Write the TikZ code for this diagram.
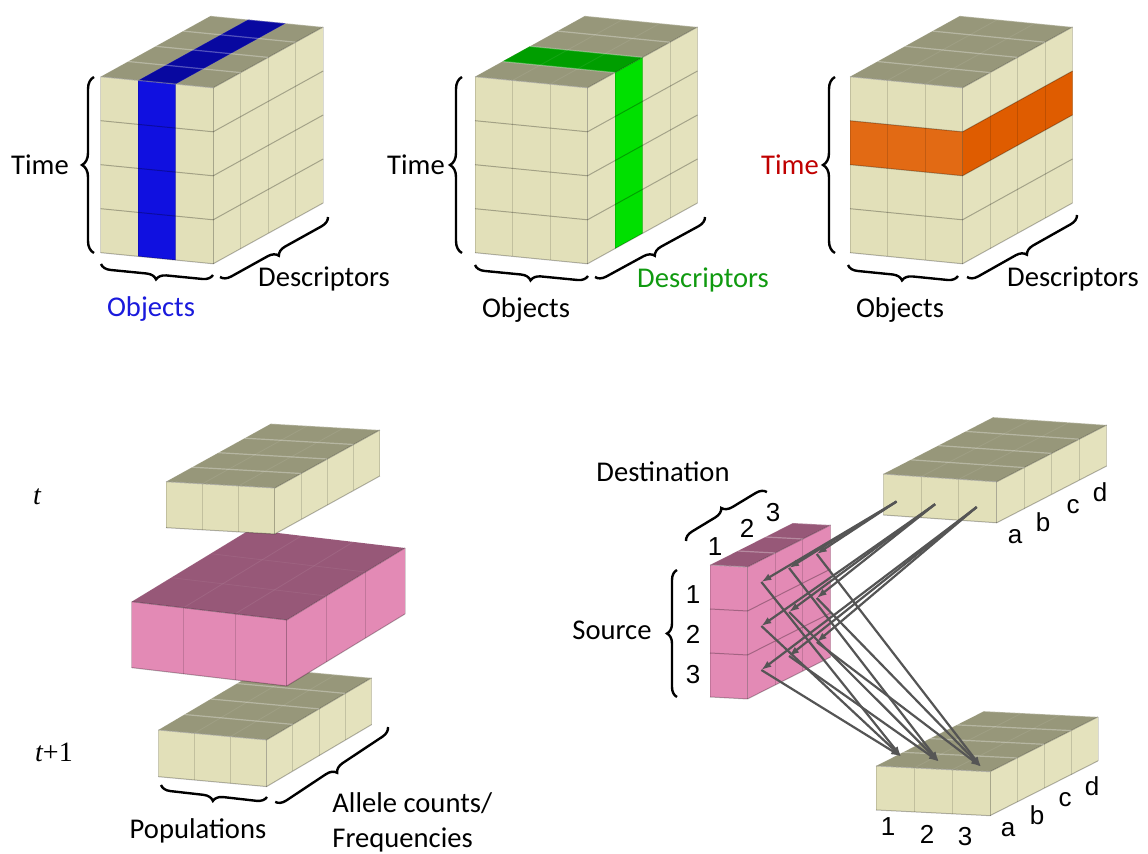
\documentclass[tikz,border=0pt]{standalone}
\usepackage{fontspec}
\setmainfont{Carlito}
\newfontfamily\idxfont{Liberation Sans}
\newfontfamily\varfont{Liberation Serif}
\usetikzlibrary{arrows.meta,decorations.pathreplacing}

\definecolor{cellfront}{HTML}{E2E0B9}
\definecolor{celltop}{HTML}{97977A}
\definecolor{cellside}{HTML}{E4E2BD}
\definecolor{pinkfront}{HTML}{E38AB5}
\definecolor{pinktop}{HTML}{975878}
\definecolor{objblue}{HTML}{1010E0}
\definecolor{objbluetop}{HTML}{0808A0}
\definecolor{descgreen}{HTML}{00E000}
\definecolor{descgreentop}{HTML}{009E00}
\definecolor{timeorange}{HTML}{E26A14}
\definecolor{timeorangeside}{HTML}{DF5C00}
\definecolor{bluetext}{HTML}{1A1ADC}
\definecolor{greentext}{HTML}{109A10}
\definecolor{redtext}{HTML}{C00000}
\definecolor{flowgrey}{HTML}{555555}

\tikzset{
    frontface/.style={fill=cellfront}, % faces of a block of cells
    topface/.style={fill=celltop},
    sideface/.style={fill=cellside},
    gridline/.style={draw=black, draw opacity=0.14, line width=0.5pt},
    rowline/.style={draw=black, draw opacity=0.28, line width=0.5pt},
    topline/.style={draw=white, draw opacity=0.3, line width=0.6pt},
    faintline/.style={draw=white, draw opacity=0.08, line width=0.4pt},
    bracket/.style={decorate, decoration={brace, amplitude=#1}, line width=1.2pt},
    bracket/.default=5pt,
    axislabel/.style={font=\fontsize{14.3}{17}\selectfont, inner sep=0pt, anchor=base},
    idxlabel/.style={font=\idxfont\fontsize{13}{15}\selectfont, inner sep=0pt},
    varlabel/.style={font=\varfont\fontsize{14}{16}\selectfont, inner sep=0pt},
    flow/.style={draw=flowgrey, line width=1.1pt, -{Latex[length=5pt,width=3.6pt]}},
}

% #1 objects, #2 rows, #3 depth, #4 coloured cells
\newcommand\cellblock[4]{%
  \fill[frontface] (0,0,0) -- (#1,0,0) -- (#1,#2,0) -- (0,#2,0) -- cycle;
  \fill[topface] (0,0,0) -- (#1,0,0) -- (#1,0,#3) -- (0,0,#3) -- cycle;
  \fill[sideface] (#1,0,0) -- (#1,0,#3) -- (#1,#2,#3) -- (#1,#2,0) -- cycle;
  #4
  \foreach \i in {0,...,#1} {
    \draw[gridline] (\i,0,0) -- (\i,#2,0);
    \draw[faintline] (\i,0,0) -- (\i,0,#3);
  }
  \foreach \j in {0,...,#2}
    \draw[rowline] (0,\j,0) -- (#1,\j,0) -- (#1,\j,#3);
  \foreach \k in {0,...,#3} {
    \draw[topline] (0,0,\k) -- (#1,0,\k);
    \draw[gridline] (#1,0,\k) -- (#1,#2,\k);
  }
}

\begin{document}
\begin{tikzpicture}[x=0.5pt, y=-0.5pt]
  \useasboundingbox (0,0) rectangle (1148,854);

  % top row: object slice, descriptor slice, time slice
  \begin{scope}[shift={(100.7,76.7)}, x={(18.75pt,-1.85pt)}, y={(0pt,-22pt)}, z={(13.75pt,7.6pt)}]
    \cellblock{3}{4}{4}{%
      \fill[objblue] (1,0,0) -- (2,0,0) -- (2,4,0) -- (1,4,0) -- cycle;
      \fill[objbluetop] (1,0,0) -- (2,0,0) -- (2,0,4) -- (1,0,4) -- cycle;}
  \end{scope}
  \begin{scope}[shift={(475,76.7)}, x={(18.75pt,-1.85pt)}, y={(0pt,-22pt)}, z={(13.75pt,7.6pt)}]
    \cellblock{3}{4}{4}{%
      \fill[descgreentop] (0,0,1) -- (3,0,1) -- (3,0,2) -- (0,0,2) -- cycle;
      \fill[descgreen] (3,0,1) -- (3,0,2) -- (3,4,2) -- (3,4,1) -- cycle;}
  \end{scope}
  \begin{scope}[shift={(850,76.7)}, x={(18.75pt,-1.85pt)}, y={(0pt,-22pt)}, z={(13.75pt,7.6pt)}]
    \cellblock{3}{4}{4}{%
      \fill[timeorange] (0,1,0) -- (3,1,0) -- (3,2,0) -- (0,2,0) -- cycle;
      \fill[timeorangeside] (3,1,0) -- (3,1,4) -- (3,2,4) -- (3,2,0) -- cycle;}
  \end{scope}

  \node[axislabel] (time1) at (40,175) {Time};
  \node[axislabel, text=bluetext] (obj1) at (151,317) {Objects};
  \node[axislabel] (desc1) at (324,287) {Descriptors};
  \draw[bracket=6pt] (94,253) -- (94,77);
  \draw[bracket] (213,275) -- (101,264);
  \draw[bracket] (328,217) -- (220,277);

  \node[axislabel] (time2) at (416,175) {Time};
  \node[axislabel] (obj2) at (526,318) {Objects};
  \node[axislabel, text=greentext] (desc2) at (703,288) {Descriptors};
  \draw[bracket=6pt] (462,253) -- (462,77);
  \draw[bracket] (588,276) -- (475,265);
  \draw[bracket] (705,217) -- (595,277);

  \node[axislabel, text=redtext] (time3) at (790,175) {Time};
  \node[axislabel] (obj3) at (900,318) {Objects};
  \node[axislabel] (desc3) at (1073,287) {Descriptors};
  \draw[bracket=6pt] (835,253) -- (835,77);
  \draw[bracket] (958,276) -- (848,265);
  \draw[bracket] (1077,215) -- (967,277);

  % bottom left: t, transition, t+1
  \begin{scope}[shift={(158.3,730)}, x={(18.05pt,-1.65pt)}, y={(0pt,-23.35pt)}, z={(13.125pt,7.75pt)}]
    \cellblock{3}{1}{4}{}
  \end{scope}
  \begin{scope}[shift={(131.7,601.7)}, x={(25.85pt,-3.05pt)}, y={(0pt,-33pt)}, z={(19.7pt,12pt)},
      frontface/.style={fill=pinkfront}, topface/.style={fill=pinktop}, sideface/.style={fill=pinkfront},
      topline/.style={draw=white, draw opacity=0.06}]
    \cellblock{3}{1}{3}{}
  \end{scope}
  \begin{scope}[shift={(166,481.7)}, x={(18.15pt,-1.05pt)}, y={(0pt,-23pt)}, z={(13.125pt,7.25pt)}]
    \cellblock{3}{1}{4}{}
  \end{scope}

  \node[varlabel] (tnow) at (37,497) {\itshape t};
  \node[varlabel] (tnext) at (54,752) {{\itshape t}+1};
  \node[axislabel] (pops) at (198,839) {Populations};
  \node[axislabel, anchor=base west] (allele) at (332,813) {Allele counts/};
  \node[axislabel, anchor=base west] (freq) at (332,848) {Frequencies};
  \draw[bracket] (267,797) -- (161,785);
  \draw[bracket] (388,727) -- (275,802);

  % bottom right: source x destination matrix between two times
  \begin{scope}[shift={(883.3,474)}, x={(18.9pt,-1.3pt)}, y={(0pt,-20.5pt)}, z={(13.75pt,7.1pt)}]
    \cellblock{3}{1}{4}{}
    \coordinate (src-1) at (0.35,0.65,0);
    \coordinate (src-2) at (1.37,0.65,0);
    \coordinate (src-3) at (2.47,0.65,0);
  \end{scope}
  \begin{scope}[shift={(876,766)}, x={(19pt,-0.95pt)}, y={(0pt,-22pt)}, z={(13.5pt,6.85pt)}]
    \cellblock{3}{1}{4}{}
    \coordinate (dst-1) at (0.15,0,0.72);
    \coordinate (dst-2) at (1.3,0,0.5);
    \coordinate (dst-3) at (2.55,0,0.3);
  \end{scope}
  \begin{scope}[shift={(710,565)}, x={(18.75pt,-1pt)}, y={(0pt,-22pt)}, z={(13.85pt,7pt)},
      frontface/.style={fill=pinkfront}, topface/.style={fill=pinktop}, sideface/.style={fill=pinkfront}]
    \cellblock{1}{3}{3}{}
    \foreach \r in {1,2,3}
      \foreach \d in {1,2,3}
        \coordinate (cell-\r-\d) at (1,\r-0.5,\d-0.5);
  \end{scope}

  \foreach \r in {1,2,3}
    \foreach \d in {1,2,3} {
      \draw[flow] (src-\r) -- (cell-\r-\d);
      \draw[flow] (cell-\r-\d) -- (dst-\d);
    }

  \node[axislabel] (dest) at (663,482) {Destination};
  \node[axislabel] (source) at (612,640) {Source};
  \draw[bracket] (686,541) -- (767,492);
  \draw[bracket] (677,697) -- (677,570);
  \node[idxlabel] (d1) at (715,547) {1};
  \node[idxlabel] (d2) at (747,528) {2};
  \node[idxlabel] (d3) at (773,513) {3};
  \node[idxlabel] (s1) at (693,595) {1};
  \node[idxlabel] (s2) at (693,634) {2};
  \node[idxlabel] (s3) at (693,675) {3};
  \node[idxlabel] (ta) at (1015,537) {a};
  \node[idxlabel] (tb) at (1043,522) {b};
  \node[idxlabel] (tc) at (1073,507) {c};
  \node[idxlabel] (td) at (1100,492) {d};
  \node[idxlabel] (b1) at (888,827) {1};
  \node[idxlabel] (b2) at (927,834) {2};
  \node[idxlabel] (b3) at (965,837) {3};
  \node[idxlabel] (ba) at (1008,830) {a};
  \node[idxlabel] (bb) at (1037,815) {b};
  \node[idxlabel] (bc) at (1065,800) {c};
  \node[idxlabel] (bd) at (1092,786) {d};
\end{tikzpicture}
\end{document}
